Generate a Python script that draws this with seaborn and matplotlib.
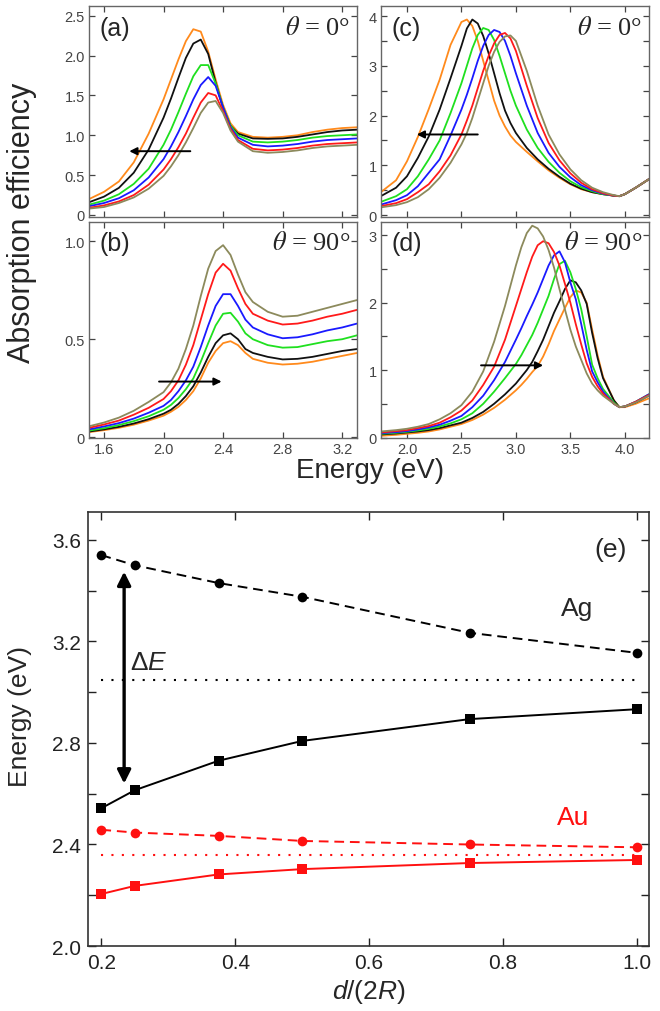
import matplotlib

matplotlib.use("Agg")

import matplotlib.pyplot as plt
import pandas as pd
import seaborn as sns
from matplotlib.ticker import MultipleLocator

# ---- panel (a): theta = 0, Au ----
energy_a = [1.5, 1.6, 1.7, 1.8, 1.9, 2.0, 2.05, 2.1, 2.15, 2.2, 2.25, 2.3,
            2.35, 2.4, 2.45, 2.5, 2.6, 2.7, 2.8, 2.9, 3.0, 3.1, 3.2, 3.3]
a_orange = [0.20, 0.29, 0.42, 0.66, 1.02, 1.45, 1.70, 1.95, 2.18, 2.33, 2.30, 2.05,
            1.70, 1.38, 1.15, 1.04, 0.98, 0.97, 0.98, 1.00, 1.04, 1.07, 1.09, 1.10]
a_black = [0.16, 0.23, 0.34, 0.53, 0.82, 1.22, 1.46, 1.72, 1.97, 2.15, 2.20, 2.02,
           1.66, 1.34, 1.12, 1.02, 0.96, 0.955, 0.96, 0.98, 1.01, 1.04, 1.06, 1.07]
a_green = [0.13, 0.18, 0.26, 0.39, 0.58, 0.88, 1.07, 1.29, 1.52, 1.74, 1.88, 1.88,
           1.65, 1.35, 1.12, 1.00, 0.92, 0.91, 0.92, 0.94, 0.97, 0.99, 1.00, 1.01]
a_blue = [0.11, 0.15, 0.21, 0.31, 0.47, 0.70, 0.86, 1.04, 1.24, 1.45, 1.63, 1.73,
          1.62, 1.35, 1.10, 0.97, 0.88, 0.86, 0.87, 0.89, 0.92, 0.94, 0.95, 0.96]
a_red = [0.09, 0.12, 0.17, 0.25, 0.38, 0.57, 0.70, 0.85, 1.02, 1.22, 1.41, 1.53,
         1.50, 1.30, 1.08, 0.94, 0.83, 0.81, 0.82, 0.84, 0.87, 0.89, 0.90, 0.91]
a_olive = [0.08, 0.10, 0.15, 0.22, 0.33, 0.49, 0.61, 0.75, 0.91, 1.09, 1.28, 1.41,
           1.43, 1.28, 1.06, 0.92, 0.80, 0.78, 0.79, 0.81, 0.84, 0.86, 0.87, 0.88]

# ---- panel (b): theta = 90, Au ----
energy_b = [1.5, 1.6, 1.7, 1.8, 1.9, 2.0, 2.05, 2.1, 2.15, 2.2, 2.25, 2.3, 2.35,
            2.4, 2.45, 2.5, 2.55, 2.6, 2.7, 2.8, 2.9, 3.0, 3.1, 3.2, 3.3]
b_orange = [0.026, 0.036, 0.048, 0.064, 0.085, 0.11, 0.13, 0.155, 0.19, 0.235, 0.30, 0.38, 0.44,
            0.48, 0.49, 0.47, 0.43, 0.40, 0.38, 0.371, 0.375, 0.385, 0.40, 0.415, 0.43]
b_black = [0.029, 0.04, 0.053, 0.07, 0.092, 0.12, 0.14, 0.17, 0.21, 0.26, 0.33, 0.41, 0.48,
           0.52, 0.53, 0.50, 0.45, 0.43, 0.41, 0.397, 0.40, 0.41, 0.425, 0.44, 0.45]
b_green = [0.034, 0.046, 0.062, 0.082, 0.107, 0.14, 0.165, 0.20, 0.245, 0.30, 0.385, 0.48, 0.57,
           0.63, 0.635, 0.59, 0.53, 0.50, 0.47, 0.457, 0.46, 0.475, 0.49, 0.50, 0.52]
b_blue = [0.04, 0.055, 0.072, 0.095, 0.125, 0.16, 0.19, 0.235, 0.29, 0.36, 0.46, 0.57, 0.67,
          0.73, 0.73, 0.67, 0.60, 0.56, 0.525, 0.505, 0.51, 0.525, 0.545, 0.56, 0.58]
b_red = [0.048, 0.065, 0.085, 0.115, 0.15, 0.195, 0.235, 0.29, 0.37, 0.47, 0.60, 0.73, 0.84,
         0.885, 0.85, 0.76, 0.68, 0.63, 0.595, 0.575, 0.58, 0.595, 0.615, 0.63, 0.65]
b_olive = [0.056, 0.075, 0.10, 0.135, 0.18, 0.23, 0.28, 0.35, 0.45, 0.57, 0.72, 0.86, 0.95,
           0.98, 0.93, 0.83, 0.74, 0.69, 0.64, 0.615, 0.62, 0.64, 0.66, 0.68, 0.70]

# ---- panel (c): theta = 0, Ag ----
energy_c = [1.76, 1.9, 2.0, 2.1, 2.2, 2.3, 2.4, 2.5, 2.55, 2.6, 2.65, 2.7, 2.75, 2.8, 2.85, 2.9,
            2.95, 3.0, 3.1, 3.2, 3.3, 3.4, 3.5, 3.6, 3.7, 3.8, 3.9, 3.95, 4.0, 4.1, 4.22]
c_orange = [0.46, 0.70, 1.08, 1.57, 2.13, 2.72, 3.42, 3.88, 3.93, 3.80, 3.50, 3.10, 2.70, 2.30, 2.00, 1.78,
            1.60, 1.47, 1.27, 1.08, 0.90, 0.75, 0.62, 0.52, 0.46, 0.42, 0.39, 0.38, 0.42, 0.55, 0.72]
c_black = [0.38, 0.55, 0.78, 1.15, 1.58, 2.12, 2.75, 3.40, 3.75, 3.93, 3.85, 3.60, 3.25, 2.85, 2.45, 2.10,
           1.85, 1.65, 1.35, 1.12, 0.93, 0.77, 0.63, 0.53, 0.46, 0.42, 0.39, 0.38, 0.42, 0.55, 0.72]
c_green = [0.265, 0.38, 0.52, 0.78, 1.12, 1.50, 2.05, 2.65, 3.00, 3.35, 3.62, 3.76, 3.72, 3.52, 3.20, 2.85,
           2.50, 2.20, 1.72, 1.35, 1.07, 0.85, 0.68, 0.56, 0.48, 0.42, 0.39, 0.38, 0.42, 0.55, 0.72]
c_blue = [0.21, 0.30, 0.40, 0.58, 0.85, 1.12, 1.60, 2.12, 2.42, 2.75, 3.10, 3.40, 3.62, 3.72, 3.68, 3.50,
          3.20, 2.85, 2.20, 1.65, 1.25, 0.97, 0.76, 0.60, 0.50, 0.43, 0.39, 0.38, 0.42, 0.55, 0.72]
c_red = [0.18, 0.24, 0.32, 0.46, 0.62, 0.88, 1.20, 1.62, 1.90, 2.20, 2.55, 2.90, 3.20, 3.45, 3.62, 3.66,
         3.55, 3.30, 2.60, 1.95, 1.45, 1.10, 0.84, 0.65, 0.52, 0.44, 0.39, 0.38, 0.42, 0.55, 0.72]
c_olive = [0.155, 0.20, 0.26, 0.36, 0.52, 0.75, 1.05, 1.42, 1.65, 1.95, 2.30, 2.65, 3.00, 3.28, 3.48, 3.59,
           3.61, 3.50, 2.90, 2.20, 1.62, 1.22, 0.92, 0.70, 0.55, 0.46, 0.40, 0.38, 0.42, 0.55, 0.72]

# ---- panel (d): theta = 90, Ag ----
energy_d = [1.76, 1.9, 2.0, 2.1, 2.2, 2.3, 2.4, 2.5, 2.6, 2.7, 2.8, 2.9, 3.0, 3.05, 3.1, 3.15, 3.2,
            3.25, 3.3, 3.35, 3.4, 3.45, 3.5, 3.55, 3.6, 3.65, 3.7, 3.75, 3.8, 3.9, 3.95, 4.0, 4.1, 4.22]
d_orange = [0.025, 0.04, 0.055, 0.07, 0.09, 0.12, 0.16, 0.20, 0.26, 0.34, 0.44, 0.56, 0.70, 0.78, 0.87, 0.97, 1.06,
            1.20, 1.38, 1.58, 1.75, 1.92, 2.08, 2.18, 2.15, 2.00, 1.60, 1.22, 0.90, 0.55, 0.45, 0.45, 0.50, 0.58]
d_black = [0.045, 0.06, 0.075, 0.09, 0.11, 0.14, 0.18, 0.22, 0.29, 0.38, 0.50, 0.64, 0.80, 0.90, 1.00, 1.12, 1.28,
           1.45, 1.65, 1.85, 2.02, 2.20, 2.33, 2.30, 2.18, 1.98, 1.55, 1.18, 0.88, 0.55, 0.45, 0.46, 0.52, 0.62]
d_green = [0.055, 0.07, 0.085, 0.105, 0.13, 0.165, 0.21, 0.27, 0.36, 0.50, 0.68, 0.88, 1.09, 1.22, 1.37, 1.52, 1.70,
           1.90, 2.10, 2.35, 2.57, 2.62, 2.45, 2.20, 1.90, 1.50, 1.08, 0.88, 0.72, 0.52, 0.45, 0.46, 0.53, 0.64]
d_blue = [0.065, 0.08, 0.095, 0.12, 0.15, 0.19, 0.25, 0.32, 0.45, 0.62, 0.85, 1.12, 1.45, 1.62, 1.80, 1.97, 2.15,
          2.35, 2.55, 2.70, 2.76, 2.60, 2.30, 2.05, 1.68, 1.30, 0.98, 0.82, 0.68, 0.50, 0.45, 0.46, 0.53, 0.64]
d_red = [0.075, 0.095, 0.11, 0.14, 0.17, 0.22, 0.30, 0.40, 0.55, 0.78, 1.05, 1.45, 1.95, 2.20, 2.45, 2.68, 2.85,
         2.91, 2.88, 2.75, 2.55, 2.28, 2.00, 1.68, 1.38, 1.10, 0.90, 0.76, 0.65, 0.50, 0.45, 0.46, 0.53, 0.63]
d_olive = [0.09, 0.11, 0.13, 0.16, 0.20, 0.27, 0.36, 0.48, 0.68, 0.98, 1.42, 1.95, 2.55, 2.82, 3.03, 3.14, 3.10,
           2.98, 2.78, 2.52, 2.20, 1.90, 1.60, 1.35, 1.15, 0.95, 0.80, 0.70, 0.62, 0.50, 0.45, 0.46, 0.52, 0.62]

# ---- panel (e): resonance energies vs d/(2R) ----
ratio = [0.2, 0.25, 0.375, 0.5, 0.75, 1.0]
ag_long = [3.54, 3.50, 3.43, 3.376, 3.234, 3.155]
ag_trans = [2.543, 2.614, 2.73, 2.808, 2.894, 2.933]
au_long = [2.458, 2.447, 2.434, 2.414, 2.40, 2.389]
au_trans = [2.205, 2.237, 2.282, 2.303, 2.327, 2.339]
ag_single = 3.05
au_single = 2.36

curve_names = ["orange", "black", "green", "blue", "red", "olive"]
curve_colors = ["#ff8a1c", "#111111", "#1fe01f", "#1a1aff", "#ff1a1a", "#8c8a5c"]

sns.set_style("ticks")
plt.rcParams["font.family"] = ["Liberation Sans", "DejaVu Sans"]
plt.rcParams["mathtext.fontset"] = "custom"
plt.rcParams["mathtext.rm"] = "Liberation Sans"
plt.rcParams["mathtext.it"] = "Liberation Sans:italic"
plt.rcParams["xtick.direction"] = "in"
plt.rcParams["ytick.direction"] = "in"
plt.rcParams["xtick.top"] = True
plt.rcParams["ytick.right"] = True

fig = plt.figure(figsize=(6.6, 10.12), dpi=100)
ax_a = fig.add_axes([0.135, 0.785, 0.406, 0.208])
ax_b = fig.add_axes([0.135, 0.566, 0.406, 0.214])
ax_c = fig.add_axes([0.577, 0.785, 0.406, 0.208])
ax_d = fig.add_axes([0.577, 0.566, 0.406, 0.214])
ax_e = fig.add_axes([0.1333, 0.0642, 0.850, 0.4289])


def spectra_frame(energy, curves):
    parts = []
    for name, vals in zip(curve_names, curves):
        parts.append(pd.DataFrame({"energy": energy, "eff": vals, "curve": name}))
    return pd.concat(parts, ignore_index=True)


def draw_spectra(ax, energy, curves, xlim, ylim, xticks, yticks, ylabels, tag, angle, arrow):
    df = spectra_frame(energy, curves)
    sns.lineplot(data=df, x="energy", y="eff", hue="curve", palette=curve_colors,
                 hue_order=curve_names, estimator=None, sort=False, legend=False,
                 lw=1.3, ax=ax)
    ax.set_xlim(*xlim)
    ax.set_ylim(*ylim)
    ax.set_xticks(xticks)
    ax.set_yticks(yticks, ylabels)
    ax.set_xlabel("")
    ax.set_ylabel("")
    ax.tick_params(labelsize=10.5, length=4, width=0.9, colors="#444444", pad=3)
    for s in ax.spines.values():
        s.set_color("#666666")
        s.set_linewidth(1.0)
    ax.text(0.04, 0.955, tag, transform=ax.transAxes, fontsize=18, va="top", ha="left")
    ax.text(0.975, 0.955, angle, transform=ax.transAxes, fontsize=19, va="top", ha="right",
            family="Liberation Serif", math_fontfamily="stix")
    x0, x1, y = arrow
    ax.annotate("", xy=(x1, y), xytext=(x0, y),
                arrowprops=dict(arrowstyle="-|>", color="black", lw=1.4, mutation_scale=11,
                                shrinkA=0, shrinkB=0))


draw_spectra(ax_a, energy_a, [a_orange, a_black, a_green, a_blue, a_red, a_olive],
             (1.5, 3.3), (-0.02, 2.62), [1.6, 2.0, 2.4, 2.8, 3.2],
             [0, 0.5, 1.0, 1.5, 2.0, 2.5], ["0", "0.5", "1.0", "1.5", "2.0", "2.5"],
             "(a)", r"$\theta$ = 0°", (2.18, 1.77, 0.8))
draw_spectra(ax_b, energy_b, [b_orange, b_black, b_green, b_blue, b_red, b_olive],
             (1.5, 3.3), (-0.005, 1.1), [1.6, 2.0, 2.4, 2.8, 3.2],
             [0, 0.5, 1.0], ["0", "0.5", "1.0"],
             "(b)", r"$\theta$ = 90°", (1.97, 2.39, 0.284))
draw_spectra(ax_c, energy_c, [c_orange, c_black, c_green, c_blue, c_red, c_olive],
             (1.76, 4.22), (-0.03, 4.2), [2.0, 2.5, 3.0, 3.5, 4.0],
             [0, 1, 2, 3, 4], ["0", "1", "2", "3", "4"],
             "(c)", r"$\theta$ = 0°", (2.65, 2.09, 1.62))
draw_spectra(ax_d, energy_d, [d_orange, d_black, d_green, d_blue, d_red, d_olive],
             (1.76, 4.22), (-0.01, 3.2), [2.0, 2.5, 3.0, 3.5, 4.0],
             [0, 1, 2, 3], ["0", "1", "2", "3"],
             "(d)", r"$\theta$ = 90°", (2.68, 3.25, 1.07))
ax_a.set_xticklabels([])
ax_c.set_xticklabels([])
ax_b.set_xticklabels(["1.6", "2.0", "2.4", "2.8", "3.2"])
ax_d.set_xticklabels(["2.0", "2.5", "3.0", "3.5", "4.0"])
for ax in (ax_c, ax_d):
    ax.yaxis.set_minor_locator(MultipleLocator(0.5))
    ax.tick_params(which="minor", length=4, width=0.9, colors="#444444")

fig.text(0.033, 0.78, "Absorption efficiency", rotation=90, fontsize=22,
         ha="center", va="center")
fig.text(0.56, 0.535, "Energy (eV)", fontsize=20, ha="center", va="center")

# ---- panel (e) ----
red = "#ff1010"
df_e = pd.concat([
    pd.DataFrame({"ratio": ratio, "energy": ag_long, "metal": "Ag", "mode": "long"}),
    pd.DataFrame({"ratio": ratio, "energy": ag_trans, "metal": "Ag", "mode": "trans"}),
    pd.DataFrame({"ratio": ratio, "energy": au_long, "metal": "Au", "mode": "long"}),
    pd.DataFrame({"ratio": ratio, "energy": au_trans, "metal": "Au", "mode": "trans"}),
], ignore_index=True)
sns.lineplot(data=df_e, x="ratio", y="energy", hue="metal", style="mode",
             palette={"Ag": "black", "Au": red},
             dashes={"long": (5, 3), "trans": ""},
             markers={"long": "o", "trans": "s"},
             markersize=7, markeredgewidth=0, lw=1.4, legend=False, ax=ax_e)
ax_e.hlines(ag_single, 0.2, 1.0, colors="black", linestyles=(0, (1, 4)), lw=1.5)
ax_e.hlines(au_single, 0.2, 1.0, colors=red, linestyles=(0, (1, 4)), lw=1.5)
ax_e.annotate("", xy=(0.234, 3.475), xytext=(0.234, 2.64),
              arrowprops=dict(arrowstyle="<|-|>", color="black", lw=2.4, mutation_scale=20,
                              shrinkA=0, shrinkB=0))
ax_e.text(0.243, 3.07, "Δ$E$", fontsize=19, ha="left", va="bottom")
ax_e.text(0.91, 3.33, "Ag", fontsize=19, ha="center", va="center")
ax_e.text(0.905, 2.51, "Au", fontsize=19, ha="center", va="center", color=red)
ax_e.text(0.985, 3.565, "(e)", fontsize=19, ha="right", va="center")

ax_e.set_xlim(0.18, 1.018)
ax_e.set_ylim(2.0, 3.71)
ax_e.set_xticks([0.2, 0.4, 0.6, 0.8, 1.0], ["0.2", "0.4", "0.6", "0.8", "1.0"])
ax_e.set_yticks([2.0, 2.4, 2.8, 3.2, 3.6], ["2.0", "2.4", "2.8", "3.2", "3.6"])
ax_e.yaxis.set_minor_locator(MultipleLocator(0.2))
ax_e.tick_params(which="both", labelsize=15, length=6, width=1.0, colors="#222222", pad=5)
for s in ax_e.spines.values():
    s.set_color("#333333")
    s.set_linewidth(1.2)
ax_e.set_xlabel("$d$/(2$R$)", fontsize=19)
ax_e.set_ylabel("Energy (eV)", fontsize=19)
ax_e.xaxis.set_label_coords(0.5, -0.072)
ax_e.yaxis.set_label_coords(-0.1, 0.53)

fig.savefig("out.png", dpi=100)
